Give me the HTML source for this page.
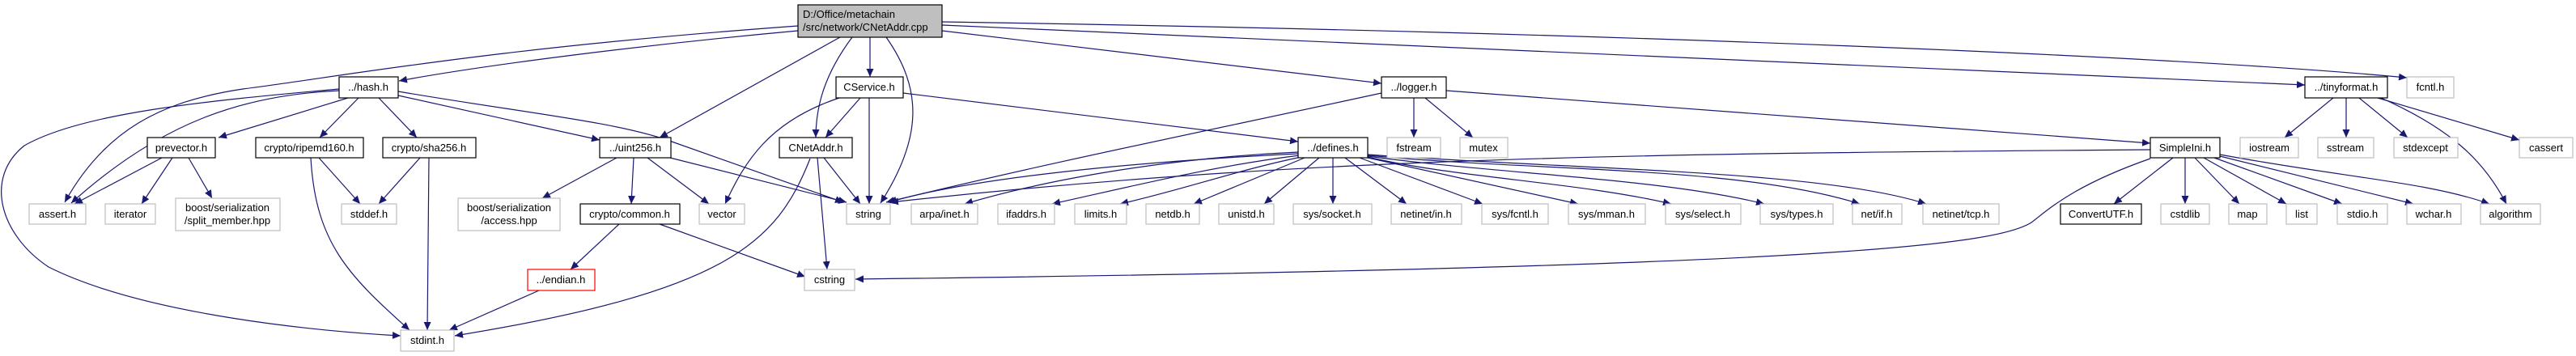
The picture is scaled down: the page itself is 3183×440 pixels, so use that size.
<!DOCTYPE html>
<html><head><meta charset="utf-8"><style>
html,body{margin:0;padding:0;background:#fff;width:3183px;height:440px;overflow:hidden}
svg{display:block}
text{font-family:"Liberation Sans",sans-serif;font-size:13px;fill:#000;text-anchor:middle}
.e{fill:none;stroke:#191970;stroke-width:1.2}
.g{fill:#fff;stroke:#bfbfbf;stroke-width:1.2}
.b{fill:#fff;stroke:#000;stroke-width:1.2}
</style></head><body>
<svg width="3183" height="440" viewBox="0 0 3183 440" xmlns="http://www.w3.org/2000/svg">
<defs><marker id="a" markerUnits="userSpaceOnUse" markerWidth="11" markerHeight="9" refX="10" refY="4.5" orient="auto"><path d="M0,0 L10,4.5 L0,9 z" fill="#191970"/></marker></defs>
<g marker-end="url(#a)">
<path class="e" d="M986,38 C800,55 600,80 493,100"/>
<path class="e" d="M986,32 C600,60 420,95 300,110 C200,125 130,160 80,250"/>
<path class="e" d="M1075,46 L1075,95"/>
<path class="e" d="M1053,46 C1020,90 1008,130 1008,170"/>
<path class="e" d="M1095,46 C1140,110 1140,170 1088,251"/>
<path class="e" d="M1038,46 L815,170"/>
<path class="e" d="M1164,38 L1707,103"/>
<path class="e" d="M1164,31 L2848,105"/>
<path class="e" d="M1164,27 C2000,40 2700,70 2974,96"/>
<path class="e" d="M419,112 C300,118 200,150 88,251"/>
<path class="e" d="M419,110 C250,125 100,140 30,180 C-20,220 0,290 60,330 C180,390 400,410 495,415"/>
<path class="e" d="M430,121 L270,170"/>
<path class="e" d="M443,121 L395,170"/>
<path class="e" d="M468,121 L515,170"/>
<path class="e" d="M492,118 L741,173"/>
<path class="e" d="M492,113 C650,140 760,150 830,175 L1042,250"/>
<path class="e" d="M200,195 L92,252"/>
<path class="e" d="M213,195 L175,252"/>
<path class="e" d="M233,195 L262,245"/>
<path class="e" d="M394,195 L445,252"/>
<path class="e" d="M384,195 C390,300 430,340 506,408"/>
<path class="e" d="M519,195 L468,252"/>
<path class="e" d="M530,195 L528,408"/>
<path class="e" d="M762,195 L670,245"/>
<path class="e" d="M783,195 L780,252"/>
<path class="e" d="M800,195 L876,252"/>
<path class="e" d="M828,195 L1046,250"/>
<path class="e" d="M765,277 L705,333"/>
<path class="e" d="M815,277 L995,342"/>
<path class="e" d="M666,359 L555,408"/>
<path class="e" d="M1001,196 C960,300 900,360 562,415"/>
<path class="e" d="M1010,195 L1022,333"/>
<path class="e" d="M1018,195 L1063,252"/>
<path class="e" d="M1037,121 C950,150 920,200 896,252"/>
<path class="e" d="M1063,121 L1020,170"/>
<path class="e" d="M1074,121 L1074,252"/>
<path class="e" d="M1116,115 L1604,175"/>
<path class="e" d="M1707,115 C1500,160 1300,200 1095,250"/>
<path class="e" d="M1747,121 L1747,170"/>
<path class="e" d="M1761,121 L1820,170"/>
<path class="e" d="M1787,112 L2657,177"/>
<path class="e" d="M1604,190 C1400,200 1200,220 1098,250"/>
<path class="e" d="M1604,188 C1450,195 1300,220 1192,252"/>
<path class="e" d="M1606,192 C1500,205 1400,230 1300,252"/>
<path class="e" d="M1608,194 C1530,210 1460,235 1384,252"/>
<path class="e" d="M1612,195 L1475,252"/>
<path class="e" d="M1630,195 L1562,252"/>
<path class="e" d="M1647,195 L1647,252"/>
<path class="e" d="M1662,195 L1738,252"/>
<path class="e" d="M1680,195 L1832,252"/>
<path class="e" d="M1690,195 L1950,252"/>
<path class="e" d="M1690,194 C1800,220 1950,225 2065,252"/>
<path class="e" d="M1690,193 C1850,215 2050,220 2180,252"/>
<path class="e" d="M1690,192 C1900,212 2150,205 2298,252"/>
<path class="e" d="M1690,191 C1950,210 2250,210 2380,252"/>
<path class="e" d="M2657,185 C2000,190 1600,195 1100,250"/>
<path class="e" d="M2657,196 C2560,230 2530,260 2510,275 C2470,300 2300,330 1057,345"/>
<path class="e" d="M2685,195 L2612,252"/>
<path class="e" d="M2700,195 L2700,252"/>
<path class="e" d="M2712,195 L2767,252"/>
<path class="e" d="M2723,195 L2825,252"/>
<path class="e" d="M2736,195 L2894,252"/>
<path class="e" d="M2743,193 L2982,252"/>
<path class="e" d="M2743,191 C2900,220 3000,225 3076,252"/>
<path class="e" d="M2883,121 L2823,170"/>
<path class="e" d="M2899,121 L2899,170"/>
<path class="e" d="M2915,121 L2975,170"/>
<path class="e" d="M2938,121 L3113,173"/>
<path class="e" d="M2942,121 C3030,160 3070,200 3097,252"/>
</g>
<rect x="986" y="6" width="178" height="40" fill="#bfbfbf" stroke="#000" stroke-width="1.2"/>
<text x="992" y="22" style="text-anchor:start">D:/Office/metachain</text>
<text x="992" y="38" style="text-anchor:start">/src/network/CNetAddr.cpp</text>
<g>
<rect class="b" x="419" y="95" width="73" height="26"/><text x="455" y="112">../hash.h</text>
<rect class="b" x="1033" y="95" width="83" height="26"/><text x="1074" y="112">CService.h</text>
<rect class="b" x="1707" y="95" width="80" height="26"/><text x="1747" y="112">../logger.h</text>
<rect class="b" x="2848" y="95" width="102" height="26"/><text x="2899" y="112">../tinyformat.h</text>
<rect class="g" x="2974" y="95" width="58" height="26"/><text x="3003" y="112">fcntl.h</text>

<rect class="b" x="182" y="170" width="84" height="25"/><text x="224" y="187">prevector.h</text>
<rect class="b" x="316" y="170" width="133" height="25"/><text x="382" y="187">crypto/ripemd160.h</text>
<rect class="b" x="473" y="170" width="115" height="25"/><text x="530" y="187">crypto/sha256.h</text>
<rect class="b" x="741" y="170" width="88" height="25"/><text x="785" y="187">../uint256.h</text>
<rect class="b" x="963" y="170" width="90" height="25"/><text x="1008" y="187">CNetAddr.h</text>
<rect class="b" x="1604" y="170" width="86" height="25"/><text x="1647" y="187">../defines.h</text>
<rect class="g" x="1714" y="170" width="66" height="25"/><text x="1747" y="187">fstream</text>
<rect class="g" x="1804" y="170" width="59" height="25"/><text x="1833" y="187">mutex</text>
<rect class="b" x="2657" y="170" width="86" height="25"/><text x="2700" y="187">SimpleIni.h</text>
<rect class="g" x="2768" y="170" width="72" height="25"/><text x="2804" y="187">iostream</text>
<rect class="g" x="2864" y="170" width="69" height="25"/><text x="2898" y="187">sstream</text>
<rect class="g" x="2958" y="170" width="79" height="25"/><text x="2997" y="187">stdexcept</text>
<rect class="g" x="3113" y="170" width="66" height="25"/><text x="3146" y="187">cassert</text>

<rect class="g" x="36" y="252" width="70" height="25"/><text x="71" y="269">assert.h</text>
<rect class="g" x="130" y="252" width="62" height="25"/><text x="161" y="269">iterator</text>
<rect class="g" x="217" y="245" width="129" height="40"/><text x="281" y="261">boost/serialization</text><text x="281" y="277">/split_member.hpp</text>
<rect class="g" x="422" y="252" width="68" height="25"/><text x="456" y="269">stddef.h</text>
<rect class="g" x="566" y="245" width="126" height="40"/><text x="629" y="261">boost/serialization</text><text x="629" y="277">/access.hpp</text>
<rect class="b" x="717" y="252" width="123" height="25"/><text x="778" y="269">crypto/common.h</text>
<rect class="g" x="864" y="252" width="56" height="25"/><text x="892" y="269">vector</text>
<rect class="g" x="1046" y="252" width="54" height="25"/><text x="1073" y="269">string</text>
<rect class="g" x="1126" y="252" width="82" height="25"/><text x="1167" y="269">arpa/inet.h</text>
<rect class="g" x="1233" y="252" width="70" height="25"/><text x="1268" y="269">ifaddrs.h</text>
<rect class="g" x="1328" y="252" width="64" height="25"/><text x="1360" y="269">limits.h</text>
<rect class="g" x="1416" y="252" width="66" height="25"/><text x="1449" y="269">netdb.h</text>
<rect class="g" x="1506" y="252" width="68" height="25"/><text x="1540" y="269">unistd.h</text>
<rect class="g" x="1598" y="252" width="97" height="25"/><text x="1646" y="269">sys/socket.h</text>
<rect class="g" x="1719" y="252" width="87" height="25"/><text x="1762" y="269">netinet/in.h</text>
<rect class="g" x="1831" y="252" width="82" height="25"/><text x="1872" y="269">sys/fcntl.h</text>
<rect class="g" x="1938" y="252" width="95" height="25"/><text x="1985" y="269">sys/mman.h</text>
<rect class="g" x="2058" y="252" width="93" height="25"/><text x="2104" y="269">sys/select.h</text>
<rect class="g" x="2175" y="252" width="90" height="25"/><text x="2220" y="269">sys/types.h</text>
<rect class="g" x="2289" y="252" width="61" height="25"/><text x="2319" y="269">net/if.h</text>
<rect class="g" x="2376" y="252" width="94" height="25"/><text x="2423" y="269">netinet/tcp.h</text>
<rect class="b" x="2546" y="252" width="100" height="25"/><text x="2596" y="269">ConvertUTF.h</text>
<rect class="g" x="2670" y="252" width="60" height="25"/><text x="2700" y="269">cstdlib</text>
<rect class="g" x="2754" y="252" width="47" height="25"/><text x="2777" y="269">map</text>
<rect class="g" x="2825" y="252" width="38" height="25"/><text x="2844" y="269">list</text>
<rect class="g" x="2888" y="252" width="62" height="25"/><text x="2919" y="269">stdio.h</text>
<rect class="g" x="2974" y="252" width="67" height="25"/><text x="3007" y="269">wchar.h</text>
<rect class="g" x="3065" y="252" width="74" height="25"/><text x="3102" y="269">algorithm</text>

<rect x="652" y="333" width="83" height="26" fill="#fff" stroke="#ff0000" stroke-width="1.2"/><text x="693" y="350">../endian.h</text>
<rect class="g" x="994" y="333" width="62" height="26"/><text x="1025" y="350">cstring</text>
<rect class="g" x="495" y="408" width="66" height="26"/><text x="528" y="425">stdint.h</text>
</g>
</svg>
</body></html>
